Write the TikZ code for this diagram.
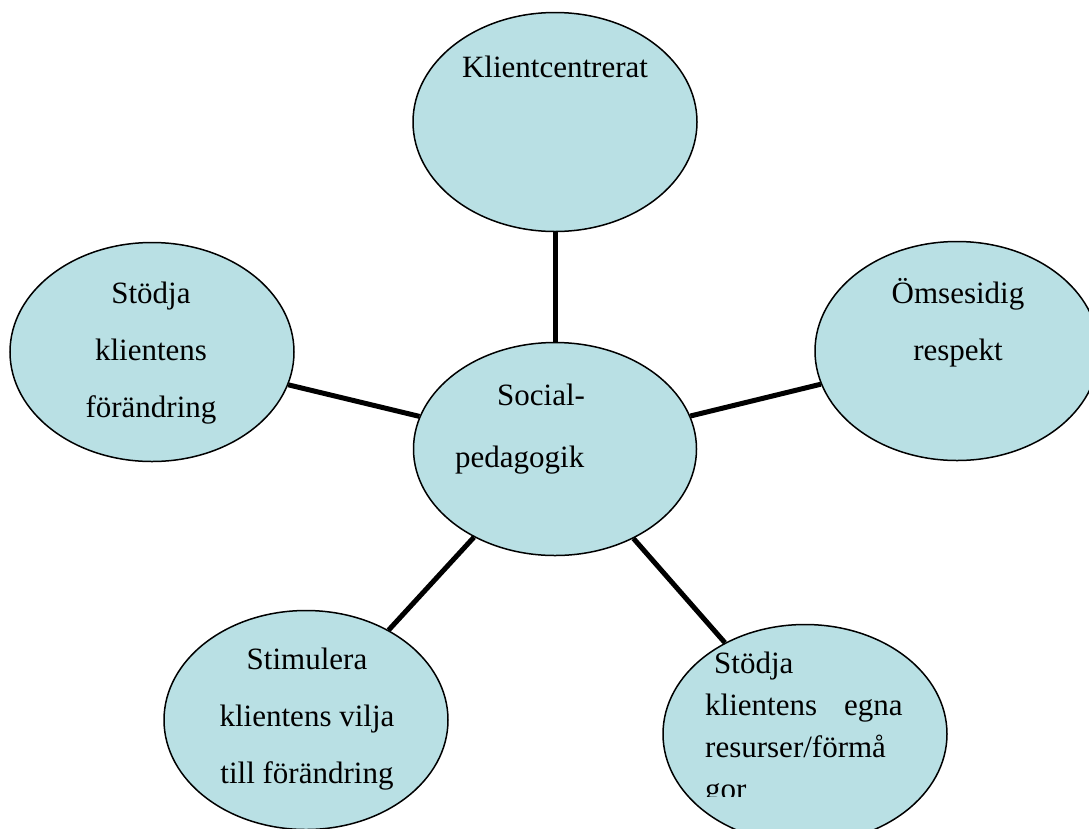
\documentclass[tikz,border=0pt]{standalone}
\usepackage{fontspec}
\setmainfont{Liberation Serif}
\usetikzlibrary{calc,shapes.geometric}
\definecolor{pastelcyan}{RGB}{185,224,228}
\tikzset{
  globo/.style={
    ellipse,
    draw=black,
    line width=1.5pt,
    fill=pastelcyan,
    minimum width=284pt,
    minimum height=219pt,
    inner sep=0pt
  },
  rotulo/.style={
    align=center,
    inner sep=0pt,
    font=\fontsize{31}{57}\selectfont
  },
  linea/.style={
    line width=5pt,
    black
  }
}

\begin{document}
\begin{tikzpicture}[x=1pt,y=-1pt]
\useasboundingbox (0,0) rectangle (1089,828);
\clip (0,0) rectangle (1089,828);
\node[globo,minimum width=283pt,minimum height=213pt] (soc) at (555,449) {};
\node[globo] (kli) at (555,122) {};
\node[globo] (sfo) at (152,352) {};
\node[globo] (oms) at (957,351) {};
\node[globo] (sti) at (306,720) {};
\node[globo] (sre) at (805,734) {};
\draw[linea] (soc) -- (kli);
\draw[linea] (soc) -- (sfo);
\draw[linea] (soc) -- (oms);
\draw[linea] (soc) -- (sti);
\draw[linea] (soc) -- (sre);
% texter (base = sista radens baslinje)
\node[rotulo,anchor=base] (tkli) at (555,77) {Klientcentrerat};
\node[rotulo,anchor=base] (tsfo) at (151,417) {Stödja\\klientens\\förändring};
\node[rotulo,anchor=base] (toms) at (958,360) {Ömsesidig\\respekt};
\node[rotulo,align=left,anchor=base west,font=\fontsize{31}{62}\selectfont] (tsoc) at (455,467) {\hspace*{42pt}Social-\\pedagogik};
\node[rotulo,anchor=base] (tsti) at (307,783) {Stimulera\\klientens vilja\\till förändring};
\begin{scope}
\clip (600,600) rectangle (1000,796);
\node[rotulo,align=left,anchor=base west,font=\fontsize{31}{42}\selectfont] (tsre) at (705,799) {\hspace*{9pt}Stödja\\klientens\hspace{27pt}egna\\resurser/förmå\\gor};
\end{scope}
\end{tikzpicture}
\end{document}
